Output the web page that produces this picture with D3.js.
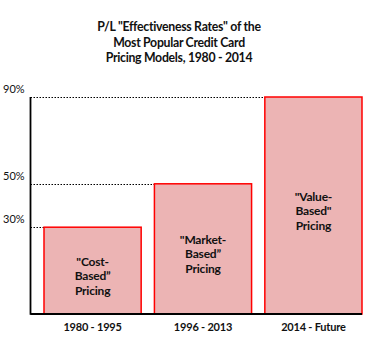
<!DOCTYPE html>
<html>
<head>
<meta charset="utf-8">
<script src="https://cdn.jsdelivr.net/npm/d3@7"></script>
<style>
  html, body { margin: 0; padding: 0; background: #fff; }
  svg { display: block; font-family: Lato, "Liberation Sans", sans-serif; }
</style>
</head>
<body>
<div id="chart"></div>
<script>
const titleLines = ['P/L "Effectiveness Rates" of the', 'Most Popular Credit Card', 'Pricing Models, 1980 - 2014'];
const categories = ["1980 - 1995", "1996 - 2013", "2014 - Future"];
const values = [30, 50, 90];
const barLabels = [
  ['"Cost-', 'Based\u201D', 'Pricing'],
  ['"Market-', 'Based\u201D', 'Pricing'],
  ['"Value-', 'Based"', 'Pricing']
];
const tickValues = [30, 50, 90];
const tickLabels = ["30%", "50%", "90%"];

const W = 386, H = 337;
const svg = d3.select("#chart").append("svg").attr("width", W).attr("height", H);

const x = d3.scaleBand().domain(categories).range([44, 362]).paddingInner(0.12).paddingOuter(0);
const y = d3.scaleLinear().domain([-10, 90]).range([314, 97]);
const axisLeft = 30.5;

// title
svg.append("text")
  .attr("x", 179).attr("y", 31)
  .attr("text-anchor", "middle")
  .attr("font-size", 12.3).attr("font-weight", "bold").attr("fill", "#111")
  .attr("letter-spacing", -0.3)
  .selectAll("tspan").data(titleLines).join("tspan")
  .attr("x", 179).attr("dy", (d, i) => i === 0 ? 0 : 15.5)
  .text(d => d);

// dotted reference lines from axis to bar left edge
svg.append("g").selectAll("line").data(values).join("line")
  .attr("x1", axisLeft).attr("x2", (d, i) => x(categories[i]))
  .attr("y1", d => Math.round(y(d)) + 0.5).attr("y2", d => Math.round(y(d)) + 0.5)
  .attr("stroke", "#000").attr("stroke-width", 1).attr("stroke-dasharray", "1.5,1.5");

// tick labels
svg.append("g").selectAll("text").data(tickValues).join("text")
  .attr("x", 3).attr("y", d => y(d) - 4)
  .attr("font-size", 11).attr("fill", "#111")
  .text((d, i) => tickLabels[i]);

// bars
svg.append("g").selectAll("rect").data(values).join("rect")
  .attr("x", (d, i) => x(categories[i]))
  .attr("y", d => y(d))
  .attr("width", x.bandwidth())
  .attr("height", d => y(-10) - y(d))
  .attr("fill", "#ecb4b4")
  .attr("stroke", "#ff0000").attr("stroke-width", 1.5);

// bar labels
const lbl = svg.append("g").selectAll("text").data(values).join("text")
  .attr("text-anchor", "middle")
  .attr("font-size", 12).attr("font-weight", "bold").attr("fill", "#111")
  .attr("letter-spacing", -0.2)
  .attr("x", (d, i) => x(categories[i]) + x.bandwidth() / 2)
  .attr("y", d => (y(d) + y(-10)) / 2 - 5);
lbl.selectAll("tspan").data((d, i) => barLabels[i]).join("tspan")
  .attr("x", function() { return d3.select(this.parentNode).attr("x"); })
  .attr("dy", (d, i) => i === 0 ? 0 : 14.5)
  .text(d => d);

// axes (left and bottom lines)
svg.append("line").attr("x1", axisLeft).attr("x2", axisLeft).attr("y1", y(90)).attr("y2", y(-10) + 0.75)
  .attr("stroke", "#000").attr("stroke-width", 1.8);
svg.append("line").attr("x1", axisLeft).attr("x2", 362).attr("y1", y(-10)).attr("y2", y(-10))
  .attr("stroke", "#000").attr("stroke-width", 1.8);

// category labels
svg.append("g").selectAll("text").data(categories).join("text")
  .attr("x", d => x(d) + x.bandwidth() / 2)
  .attr("y", 331)
  .attr("text-anchor", "middle")
  .attr("font-size", 11).attr("font-weight", "bold").attr("fill", "#111")
  .attr("letter-spacing", -0.2)
  .text(d => d);
</script>
</body>
</html>
